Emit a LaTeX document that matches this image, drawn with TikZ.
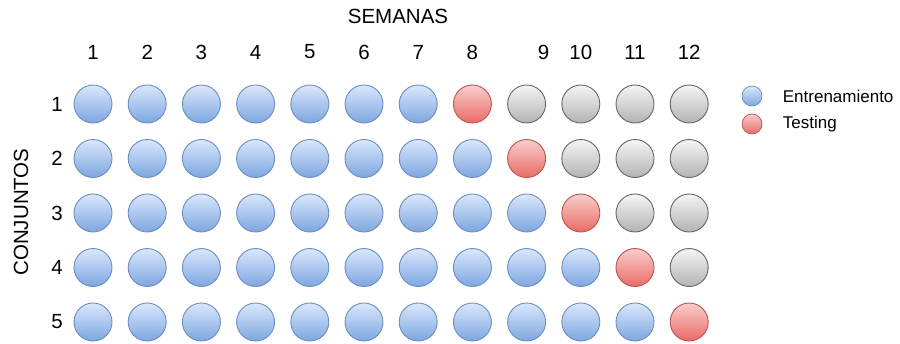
\documentclass[tikz,border=0pt]{standalone}
\usepackage{fontspec}
\setmainfont{Liberation Sans}
\usetikzlibrary{positioning}

\definecolor{traintop}{HTML}{DAE8FC}
\definecolor{trainbot}{HTML}{7EA6E0}
\definecolor{trainline}{HTML}{6C8EBF}
\definecolor{testtop}{HTML}{F8CECC}
\definecolor{testbot}{HTML}{EA6B66}
\definecolor{testline}{HTML}{B85450}
\definecolor{idletop}{HTML}{F5F5F5}
\definecolor{idlebot}{HTML}{B3B3B3}
\definecolor{idleline}{HTML}{666666}

\begin{document}
\begin{tikzpicture}[x=1pt,y=-1pt,
  cell/.style={circle,minimum size=38pt,inner sep=0pt,line width=0.9pt,draw=#1line,top color=#1top,bottom color=#1bot},
  lbl/.style={font=\fontsize{20.5}{24}\selectfont},
  legtxt/.style={font=\fontsize{17}{20}\selectfont,anchor=west}]
\useasboundingbox (0,0) rectangle (900,343);
\node[lbl] (title) at (398,16) {SEMANAS};
\node[lbl,rotate=90] (sets) at (21,212) {CONJUNTOS};
% week numbers (the 9 sits a little to the right)
\foreach \c in {1,...,12} {
  \pgfmathsetmacro\xc{93+54.2*(\c-1)+(\c==9)*17}
  \node[lbl] (w\c) at (\xc,52) {\c};
}
% one row per set: training, one testing week, then idle weeks
\foreach \r in {1,...,5} {
  \pgfmathsetmacro\yr{104+54.5*(\r-1)}
  \pgfmathtruncatemacro\t{7+\r}
  \node[lbl] (s\r) at (57,\yr) {\r};
  \foreach \c in {1,...,12} {
    \pgfmathsetmacro\xc{93+54.2*(\c-1)}
    \ifnum\c<\t \def\kind{train}\else\ifnum\c=\t \def\kind{test}\else\def\kind{idle}\fi\fi
    \node[cell=\kind] (d\r-\c) at (\xc,\yr) {};
  }
}
% legend
\node[cell=train,minimum size=20pt,line width=0.7pt] (ktrain) at (752,96) {};
\node[cell=test,minimum size=20pt,line width=0.7pt] (ktest) at (752,124) {};
\node[legtxt,right=17pt of ktrain] (ltrain) {Entrenamiento};
\node[legtxt,right=17pt of ktest] (ltest) {Testing};
\end{tikzpicture}
\end{document}
